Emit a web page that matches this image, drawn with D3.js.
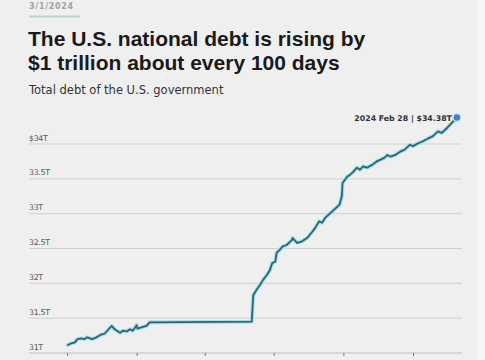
<!DOCTYPE html>
<html><head><meta charset="utf-8">
<script src="https://cdn.jsdelivr.net/npm/d3@7"></script>
<style>html,body{margin:0;padding:0;background:#efefef;}svg{display:block;}</style>
</head><body>
<svg id="c" width="485" height="360"></svg>
<script>
const dates = ["2022-10-02","2022-10-07","2022-10-11","2022-10-15","2022-10-20","2022-10-24","2022-10-28","2022-11-03","2022-11-09","2022-11-14","2022-11-20","2022-11-24","2022-11-29","2022-12-03","2022-12-10","2022-12-14","2022-12-19","2022-12-23","2022-12-27","2023-01-01","2023-01-02","2023-01-08","2023-01-14","2023-01-18","2023-06-02","2023-06-04","2023-06-08","2023-06-13","2023-06-17","2023-06-22","2023-06-26","2023-06-29","2023-07-03","2023-07-05","2023-07-09","2023-07-13","2023-07-18","2023-07-25","2023-07-26","2023-08-01","2023-08-07","2023-08-14","2023-08-21","2023-08-25","2023-08-30","2023-09-03","2023-09-07","2023-09-13","2023-09-20","2023-09-26","2023-09-29","2023-09-30","2023-10-06","2023-10-10","2023-10-14","2023-10-19","2023-10-23","2023-10-27","2023-11-01","2023-11-08","2023-11-14","2023-11-20","2023-11-24","2023-11-28","2023-12-02","2023-12-08","2023-12-15","2023-12-21","2023-12-28","2024-01-01","2024-01-08","2024-01-14","2024-01-21","2024-01-27","2024-02-03","2024-02-08","2024-02-15","2024-02-21","2024-02-28"];
const debt = [31.115,31.14,31.15,31.20,31.21,31.20,31.225,31.20,31.225,31.26,31.28,31.33,31.39,31.34,31.29,31.32,31.31,31.34,31.32,31.40,31.35,31.37,31.39,31.44,31.45,31.83,31.90,31.98,32.05,32.12,32.19,32.29,32.31,32.44,32.48,32.53,32.55,32.62,32.65,32.58,32.60,32.65,32.74,32.80,32.89,32.87,32.94,33.00,33.07,33.13,33.25,33.44,33.53,33.56,33.60,33.66,33.63,33.68,33.66,33.70,33.75,33.78,33.80,33.84,33.82,33.84,33.89,33.92,33.99,33.97,34.01,34.04,34.08,34.11,34.18,34.16,34.23,34.30,34.38];
const yTicks = [31, 31.5, 32, 32.5, 33, 33.5, 34];
const yTickLabels = ["31T","31.5T","32T","32.5T","33T","33.5T","$34T"];
const xTicks = ["2022-10-01","2023-01-01","2023-04-01","2023-07-01","2023-10-01","2024-01-01"];
const dateLabel = "3/1/2024";
const title = ["The U.S. national debt is rising by", "$1 trillion about every 100 days"];
const subtitle = "Total debt of the U.S. government";
const endLabel = "2024 Feb 28 | $34.38T";

const parse = d3.utcParse("%Y-%m-%d");
const data = dates.map((d,i)=>({date:parse(d), v:debt[i]}));
const svg = d3.select("#c");
svg.append("rect").attr("x",477).attr("y",0).attr("width",8).attr("height",360).attr("fill","#f6f6f6");

const x = d3.scaleUtc().domain([parse("2022-10-01"), parse("2024-01-01")]).range([67, 413]);
const y = d3.scaleLinear().domain([31, 34]).range([353, 144]);

// header
svg.append("text").attr("x",29).attr("y",8.5).text(dateLabel)
  .attr("font-family","DejaVu Sans, sans-serif").attr("font-size",8).attr("font-weight",700)
  .attr("letter-spacing",0.7).attr("fill","#a2a2a2");
svg.append("line").attr("x1",29).attr("x2",80).attr("y1",16.5).attr("y2",16.5)
  .attr("stroke","#b8d3d6").attr("stroke-width",2);
title.forEach((t,i)=>{
  svg.append("text").attr("x",28).attr("y",45.5+i*24).text(t)
    .attr("font-family","Liberation Sans, Arial, sans-serif").attr("font-size",21).attr("font-weight",700)
    .attr("fill","#1a1a1a");
});
svg.append("text").attr("x",29).attr("y",94).text(subtitle)
  .attr("font-family","DejaVu Sans, sans-serif").attr("font-size",11.5).attr("fill","#333");

// grid
const g = svg.append("g");
g.selectAll("line.grid").data(yTicks).join("line").attr("class","grid")
  .attr("x1",29).attr("x2",462).attr("y1",d=>y(d)).attr("y2",d=>y(d))
  .attr("stroke",(d,i)=>i===0?"#c0c0c0":"#cfcfcf").attr("stroke-width",1);
g.selectAll("text.yl").data(yTicks).join("text").attr("class","yl")
  .attr("x",29).attr("y",d=>y(d)-3.5).text((d,i)=>yTickLabels[i])
  .attr("font-family","DejaVu Sans, sans-serif").attr("font-size",7.8).attr("letter-spacing",-0.3).attr("fill","#555");

// x axis ticks
const xAxis = d3.axisBottom(x).tickValues(xTicks.map(parse)).tickSize(3).tickFormat("");
const ax = svg.append("g").attr("transform","translate(0,353)").call(xAxis);
ax.select(".domain").remove();
ax.selectAll(".tick line").attr("stroke","#777");

// line
const line = d3.line().x(d=>x(d.date)).y(d=>y(d.v)).curve(d3.curveLinear);
svg.append("path").datum(data).attr("d",line).attr("fill","none")
  .attr("stroke","#a8dfe8").attr("stroke-width",4).attr("stroke-linejoin","round").attr("stroke-linecap","round");
svg.append("path").datum(data).attr("d",line).attr("fill","none")
  .attr("stroke","#2c6577").attr("stroke-width",1.8).attr("stroke-linejoin","round").attr("stroke-linecap","round");

// end point
const last = data[data.length-1];
svg.append("circle").attr("cx",x(last.date)).attr("cy",y(last.v)).attr("r",4.5).attr("fill","#cfe0f0");
svg.append("circle").attr("cx",x(last.date)).attr("cy",y(last.v)).attr("r",3.2).attr("fill","#3d85c6");
svg.append("text").attr("x",x(last.date)-5).attr("y",y(last.v)+3).attr("text-anchor","end")
  .text(endLabel).attr("font-family","DejaVu Sans, sans-serif").attr("font-size",7.8)
  .attr("font-weight",700).attr("fill","#333");
</script>
</body></html>
